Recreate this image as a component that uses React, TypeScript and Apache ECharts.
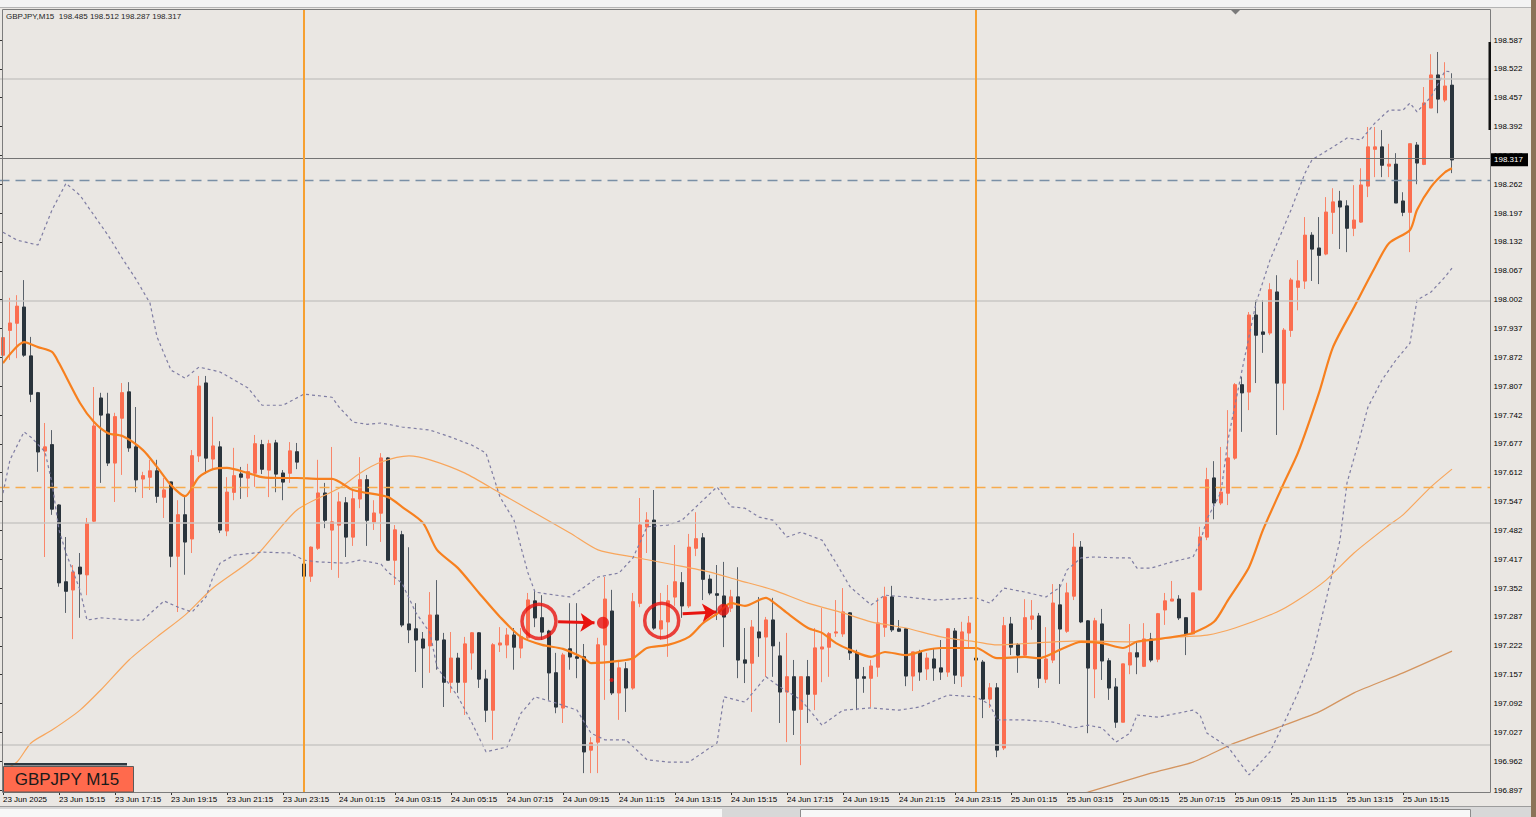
import React, { useEffect, useRef } from "react";
import * as echarts from "echarts";

// ---- candle data (GBPJPY M15, 23 Jun 13:15 -> 25 Jun 17:00) ----
const openP = [
197.877,197.933,197.949,197.985,197.875,197.792,197.661,197.675,197.539,197.366,
197.348,197.399,197.382,197.503,197.780,197.744,197.634,197.735,197.794,197.670,
197.598,197.602,197.616,197.557,197.591,197.424,197.517,197.463,197.650,197.814,
197.643,197.670,197.481,197.568,197.609,197.600,197.611,197.675,197.618,197.679,
197.611,197.611,197.659,197.406,197.379,197.442,197.566,197.483,197.494,197.544,
197.467,197.553,197.596,197.501,197.521,197.645,197.415,197.472,197.271,197.260,
197.237,197.222,197.291,197.235,197.140,197.194,197.140,197.206,197.251,197.147,
197.077,197.224,197.224,197.246,197.217,197.240,197.323,197.285,197.255,197.161,
197.082,197.215,197.197,197.197,196.987,197.005,197.224,197.300,197.116,197.170,
197.127,197.318,197.490,197.505,197.260,197.276,197.332,197.364,197.312,197.442,
197.465,197.372,197.339,197.334,197.307,197.332,197.190,197.183,197.253,197.242,
197.280,197.199,197.118,197.152,197.079,197.152,197.113,197.215,197.219,197.251,
197.249,197.296,197.206,197.152,197.149,197.174,197.264,197.332,197.260,197.260,
197.154,197.208,197.170,197.192,197.172,197.163,197.255,197.154,197.251,197.194,
197.185,197.102,197.127,196.992,197.271,197.224,197.201,197.282,197.289,197.147,
197.190,197.314,197.255,197.334,197.444,197.278,197.170,197.271,197.188,197.129,
197.050,197.179,197.206,197.176,197.237,197.192,197.303,197.323,197.327,197.285,
197.249,197.348,197.467,197.600,197.544,197.566,197.645,197.810,197.794,197.967,
197.929,197.927,198.019,197.814,197.933,198.030,198.044,198.147,198.118,198.105,
198.199,198.224,198.213,198.163,198.177,198.258,198.341,198.346,198.303,198.307,
198.224,198.199,198.350,198.307,198.434,198.508,198.452,198.485
];
const closeP = [
197.916,197.949,197.987,197.877,197.789,197.659,197.670,197.530,197.364,197.345,
197.388,197.384,197.498,197.717,197.742,197.634,197.738,197.792,197.668,197.596,
197.605,197.616,197.559,197.573,197.424,197.517,197.456,197.650,197.807,197.645,
197.672,197.483,197.568,197.605,197.602,197.614,197.677,197.620,197.677,197.609,
197.591,197.661,197.636,197.379,197.444,197.566,197.505,197.501,197.546,197.467,
197.553,197.596,197.505,197.521,197.645,197.415,197.483,197.269,197.258,197.235,
197.217,197.291,197.235,197.140,197.194,197.140,197.226,197.251,197.147,197.077,
197.224,197.228,197.246,197.219,197.242,197.325,197.285,197.253,197.161,197.084,
197.201,197.197,197.194,196.983,197.003,197.224,197.327,197.116,197.172,197.127,
197.321,197.494,197.505,197.262,197.278,197.323,197.366,197.312,197.444,197.463,
197.372,197.341,197.336,197.287,197.332,197.190,197.183,197.264,197.240,197.280,
197.222,197.118,197.152,197.077,197.152,197.113,197.217,197.219,197.249,197.253,
197.298,197.206,197.149,197.149,197.176,197.273,197.332,197.258,197.255,197.154,
197.208,197.163,197.194,197.172,197.163,197.260,197.156,197.253,197.273,197.190,
197.102,197.127,196.987,197.267,197.219,197.201,197.285,197.289,197.149,197.192,
197.318,197.260,197.341,197.444,197.276,197.172,197.278,197.188,197.127,197.050,
197.181,197.206,197.197,197.237,197.190,197.294,197.323,197.327,197.285,197.249,
197.341,197.467,197.596,197.544,197.568,197.645,197.810,197.792,197.967,197.922,
197.924,198.024,197.814,197.933,198.046,198.044,198.147,198.116,198.102,198.199,
198.222,198.211,198.163,198.181,198.260,198.346,198.346,198.305,198.307,198.220,
198.199,198.353,198.310,198.445,198.508,198.454,198.483,198.317
];
const lowP = [
197.866,197.866,197.870,197.873,197.771,197.614,197.422,197.517,197.355,197.296,
197.237,197.285,197.336,197.501,197.589,197.627,197.546,197.607,197.659,197.568,
197.555,197.573,197.544,197.510,197.399,197.298,197.382,197.431,197.636,197.609,
197.618,197.476,197.469,197.550,197.553,197.557,197.580,197.609,197.557,197.568,
197.550,197.589,197.620,197.201,197.366,197.438,197.487,197.393,197.375,197.422,
197.447,197.532,197.447,197.483,197.456,197.415,197.359,197.264,197.228,197.163,
197.127,197.161,197.168,197.084,197.116,197.116,197.066,197.168,197.127,197.050,
197.010,197.208,197.194,197.168,197.194,197.235,197.264,197.235,197.100,197.070,
197.048,197.168,197.149,196.935,196.935,196.935,197.100,197.111,197.055,197.073,
197.123,197.309,197.431,197.258,197.235,197.197,197.312,197.285,197.307,197.424,
197.325,197.336,197.280,197.219,197.298,197.149,197.138,197.073,197.197,197.152,
197.152,197.048,197.005,197.021,196.953,197.048,197.077,197.140,197.152,197.242,
197.242,197.190,197.077,197.116,197.084,197.152,197.242,197.253,197.253,197.131,
197.120,197.143,197.145,197.143,197.145,197.152,197.136,197.129,197.219,197.174,
197.059,197.082,196.971,196.987,197.201,197.161,197.197,197.258,197.127,197.138,
197.183,197.136,197.251,197.325,197.273,197.025,197.104,197.145,197.100,197.037,
197.050,197.158,197.158,197.174,197.185,197.185,197.269,197.323,197.280,197.201,
197.249,197.348,197.460,197.507,197.539,197.539,197.641,197.704,197.753,197.814,
197.882,197.922,197.697,197.753,197.918,197.978,198.026,198.044,198.037,198.102,
198.150,198.116,198.109,198.145,198.175,198.233,198.278,198.278,198.278,198.220,
198.190,198.109,198.262,198.305,198.434,198.422,198.447,198.287
];
const highP = [
197.990,198.006,198.012,198.046,197.918,197.794,197.724,197.708,197.541,197.467,
197.404,197.431,197.510,197.805,197.792,197.792,197.747,197.814,197.816,197.760,
197.614,197.641,197.641,197.600,197.591,197.550,197.557,197.663,197.830,197.830,
197.738,197.683,197.602,197.668,197.625,197.632,197.697,197.686,197.686,197.686,
197.618,197.681,197.679,197.415,197.446,197.641,197.589,197.670,197.568,197.557,
197.573,197.647,197.607,197.550,197.656,197.647,197.494,197.481,197.444,197.318,
197.253,197.343,197.370,197.251,197.253,197.206,197.242,197.253,197.253,197.168,
197.228,197.264,197.262,197.262,197.262,197.341,197.348,197.336,197.258,197.206,
197.206,197.318,197.318,197.226,197.016,197.240,197.377,197.348,197.190,197.185,
197.341,197.555,197.523,197.573,197.341,197.359,197.449,197.388,197.474,197.523,
197.476,197.382,197.404,197.411,197.348,197.399,197.262,197.280,197.332,197.287,
197.330,197.231,197.251,197.190,197.152,197.190,197.262,197.307,197.253,197.325,
197.352,197.298,197.213,197.174,197.190,197.330,197.355,197.357,197.280,197.262,
197.208,197.213,197.206,197.217,197.235,197.262,197.262,197.276,197.289,197.219,
197.190,197.138,197.138,197.287,197.287,197.228,197.327,197.325,197.296,197.264,
197.361,197.361,197.364,197.476,197.458,197.280,197.285,197.305,197.194,197.149,
197.181,197.271,197.231,197.273,197.251,197.296,197.341,197.368,197.336,197.285,
197.341,197.490,197.623,197.638,197.670,197.753,197.814,197.828,197.974,198.001,
198.001,198.039,198.057,197.938,198.051,198.091,198.188,198.154,198.188,198.233,
198.253,198.247,198.226,198.260,198.298,198.391,198.391,198.384,198.353,198.332,
198.244,198.353,198.357,198.481,198.555,198.560,198.537,198.512
];

const timeTicks = [
"23 Jun 2025","23 Jun 15:15","23 Jun 17:15","23 Jun 19:15","23 Jun 21:15","23 Jun 23:15",
"24 Jun 01:15","24 Jun 03:15","24 Jun 05:15","24 Jun 07:15","24 Jun 09:15","24 Jun 11:15",
"24 Jun 13:15","24 Jun 15:15","24 Jun 17:15","24 Jun 19:15","24 Jun 21:15","24 Jun 23:15",
"25 Jun 01:15","25 Jun 03:15","25 Jun 05:15","25 Jun 07:15","25 Jun 09:15","25 Jun 11:15",
"25 Jun 13:15","25 Jun 15:15"
];
const priceTicks = [
"196.897","196.962","197.027","197.092","197.157","197.222","197.287","197.352","197.417",
"197.482","197.547","197.612","197.677","197.742","197.807","197.872","197.937","198.002",
"198.067","198.132","198.197","198.262","198.327","198.392","198.457","198.522","198.587"
];

// ---- indicators, read at sample bars: [bar index, price] ----
const ma20 = [
[0,197.859],[3,197.906],[5,197.895],[7,197.884],[8,197.859],[11,197.769],[13,197.726],[15,197.701],
[17,197.695],[20,197.663],[22,197.625],[24,197.584],[26,197.559],[28,197.602],[30,197.620],[32,197.623],
[35,197.611],[37,197.602],[40,197.600],[42,197.600],[45,197.598],[47,197.598],[50,197.573],[55,197.557],
[57,197.535],[60,197.499],[62,197.438],[65,197.397],[68,197.341],[71,197.287],[74,197.242],[77,197.224],
[80,197.215],[83,197.194],[84,197.183],[88,197.188],[90,197.194],[92,197.217],[95,197.224],[98,197.242],
[100,197.273],[102,197.294],[104,197.318],[106,197.312],[109,197.330],[110,197.321],[112,197.296],
[115,197.262],[117,197.251],[119,197.228],[121,197.213],[124,197.197],[126,197.208],[129,197.201],
[132,197.213],[134,197.217],[139,197.217],[142,197.194],[146,197.197],[148,197.194],[151,197.213],
[154,197.231],[157,197.228],[160,197.217],[162,197.231],[165,197.237],[168,197.244],[170,197.251],
[173,197.276],[175,197.325],[178,197.399],[180,197.483],[183,197.589],[185,197.657],[188,197.792],
[190,197.895],[193,197.985],[196,198.075],[198,198.129],[201,198.159],[202,198.204],[204,198.256],
[206,198.289],[207,198.298]
];
const ma50 = [
[0,196.942],[2,196.960],[4,197.003],[7,197.032],[11,197.077],[14,197.123],[18,197.190],[22,197.242],
[26,197.291],[30,197.352],[36,197.422],[42,197.528],[48,197.577],[51,197.611],[54,197.636],[58,197.650],
[61,197.641],[66,197.611],[71,197.566],[76,197.521],[81,197.476],[85,197.438],[90,197.422],[96,197.404],
[101,197.388],[105,197.370],[110,197.348],[115,197.318],[120,197.296],[124,197.276],[129,197.262],
[134,197.242],[139,197.231],[142,197.224],[147,197.228],[154,197.233],[161,197.231],[168,197.242],
[172,197.246],[176,197.262],[182,197.298],[185,197.325],[189,197.370],[193,197.431],[198,197.494],
[200,197.517],[204,197.580],[207,197.620]
];
const ma200 = [
[150,196.870],[155,196.892],[164,196.935],[170,196.960],[176,197.003],[182,197.037],[188,197.073],
[193,197.116],[200,197.161],[207,197.210]
];
const bbUpper = [
[0,198.154],[2,198.136],[5,198.125],[7,198.204],[9,198.264],[11,198.237],[13,198.192],[15,198.147],
[17,198.096],[19,198.048],[21,197.994],[22,197.918],[24,197.843],[26,197.825],[28,197.850],[31,197.839],
[33,197.821],[35,197.803],[37,197.764],[40,197.764],[43,197.789],[47,197.782],[48,197.760],[50,197.726],
[52,197.721],[54,197.724],[57,197.715],[61,197.708],[64,197.692],[67,197.674],[69,197.656],[71,197.557],
[73,197.505],[74,197.444],[75,197.386],[76,197.343],[79,197.336],[81,197.332],[83,197.354],[85,197.377],
[88,197.386],[90,197.420],[92,197.490],[95,197.494],[97,197.505],[100,197.550],[102,197.580],
[104,197.535],[106,197.532],[108,197.512],[110,197.505],[112,197.467],[114,197.478],[117,197.460],
[119,197.409],[121,197.355],[124,197.314],[126,197.336],[129,197.332],[133,197.325],[139,197.330],
[141,197.318],[143,197.352],[146,197.343],[149,197.332],[151,197.354],[152,197.393],[154,197.420],
[156,197.422],[159,197.420],[161,197.420],[162,197.397],[164,197.397],[167,197.411],[170,197.422],
[171,197.454],[172,197.508],[174,197.568],[175,197.686],[177,197.843],[179,197.994],[181,198.091],
[184,198.204],[186,198.287],[187,198.317],[190,198.346],[192,198.366],[194,198.362],[196,198.400],
[198,198.429],[200,198.429],[201,198.445],[202,198.425],[204,198.459],[206,198.517],[207,198.515]
];
const bbLower = [
[0,197.566],[1,197.641],[3,197.704],[4,197.692],[6,197.659],[7,197.589],[8,197.483],[9,197.431],
[11,197.348],[12,197.280],[14,197.285],[18,197.280],[20,197.280],[23,197.323],[25,197.309],[27,197.298],
[29,197.332],[30,197.377],[31,197.408],[33,197.426],[37,197.433],[41,197.431],[43,197.415],[45,197.411],
[49,197.408],[51,197.415],[54,197.406],[55,197.388],[57,197.363],[59,197.296],[61,197.251],[62,197.174],
[65,197.107],[67,197.048],[69,196.983],[72,196.994],[74,197.070],[76,197.107],[79,197.093],[82,197.077],
[84,197.025],[86,197.010],[89,197.010],[92,196.965],[95,196.960],[98,196.960],[102,197.003],
[103,197.107],[106,197.095],[109,197.152],[111,197.129],[114,197.100],[117,197.043],[120,197.077],
[124,197.082],[128,197.077],[131,197.084],[135,197.111],[139,197.107],[141,197.089],[142,197.055],
[146,197.055],[150,197.050],[153,197.037],[155,197.043],[157,197.037],[159,197.005],[161,197.025],
[162,197.066],[165,197.061],[170,197.077],[171,197.066],[172,197.025],[175,196.994],[178,196.931],
[181,196.983],[183,197.048],[185,197.116],[187,197.197],[189,197.325],[191,197.460],[192,197.589],
[194,197.701],[195,197.760],[197,197.821],[199,197.866],[201,197.904],[202,198.001],[204,198.019],
[206,198.053],[207,198.073]
];

// ---- chart objects ----
const silverLevels = [198.5, 198.0, 197.5, 197.0];
const bidPrice = 198.317;
const blueDashLevel = 198.267;
const orangeDashLevel = 197.58;
const daySeparators = [43, 139];

// ---- hand-drawn annotations: [bar index, price] ----
const circleMarks = [[76.57, 197.277], [94.1, 197.279]];
const dotMarks = [[85.71, 197.274], [102.9, 197.303]];
const tinyDots = [[86.95, 197.145]];
const arrowMarks = [
  [[79.3, 197.276], [84.5, 197.274]],
  [[97.1, 197.294], [101.9, 197.298]],
];

const N_SLOTS = 213;
const Y_MIN = 196.8925;
const Y_MAX = 198.6546;

const BULL = "#FB6E50";
const BULL_WICK = "#F9866A";
const BEAR = "#2A343C";
const BEAR_WICK = "#5A626B";
const FONT = '"Liberation Sans", Arial, sans-serif';

export default function App() {
  const ref = useRef<HTMLDivElement>(null);

  useEffect(() => {
    document.body.style.margin = "0";
    const chart = echarts.init(ref.current as HTMLDivElement, null, { renderer: "svg" });
    const cats = Array.from({ length: N_SLOTS }, (_, i) => String(i));
    const candles = openP.map((o, i) => [o, closeP[i], lowP[i], highP[i]]);
    const bodies = openP.map((o, i) => [o, closeP[i], Math.min(o, closeP[i]), Math.max(o, closeP[i])]);
    const showIdx = (i: number) => i % 8 === 0 && i <= 200;

    const lineSeries = (data: number[][], color: string, width: number, dash: any, smooth: number) => ({
      type: "line",
      xAxisIndex: 1,
      yAxisIndex: 0,
      data,
      symbol: "none",
      showSymbol: false,
      smooth,
      silent: true,
      z: 4,
      lineStyle: { color, width, type: dash },
    });

    const option: any = {
      animation: false,
      backgroundColor: "#EAE7E3",
      textStyle: { fontFamily: FONT },
      grid: [
        { left: -0.5, right: 45.5, top: 10, bottom: 25, outerBoundsMode: "none", containLabel: false },
        { left: -0.5, right: 45.5, top: 40, height: 750, outerBoundsMode: "none", containLabel: false },
      ],
      xAxis: [
        {
          type: "category",
          gridIndex: 0,
          data: cats,
          boundaryGap: true,
          axisLine: { show: false },
          axisTick: { show: true, alignWithLabel: true, interval: (i: number) => showIdx(i), length: 3, lineStyle: { color: "#333" } },
          axisLabel: {
            show: true,
            interval: (i: number) => showIdx(i),
            formatter: (_v: string, i: number) => timeTicks[i / 8] || "",
            align: "left",
            margin: 3,
            fontSize: 8,
            color: "#000",
            fontFamily: FONT,
          },
          splitLine: { show: false },
        },
        { type: "value", gridIndex: 0, min: -0.5, max: N_SLOTS - 0.5, show: false },
        { type: "value", gridIndex: 1, min: 0, max: 1, show: false },
      ],
      yAxis: [
        { type: "value", gridIndex: 0, min: Y_MIN, max: Y_MAX, show: false, splitLine: { show: false } },
        {
          type: "value",
          gridIndex: 1,
          min: 0,
          max: priceTicks.length - 1,
          interval: 1,
          position: "right",
          axisLine: { show: false },
          axisTick: { show: true, length: 3, lineStyle: { color: "#333" } },
          axisLabel: {
            formatter: (v: number) => priceTicks[Math.round(v)] || "",
            fontSize: 8,
            color: "#000",
            margin: 3,
            fontFamily: FONT,
          },
          splitLine: { show: false },
        },
      ],
      series: [
        {
          type: "line",
          xAxisIndex: 0,
          yAxisIndex: 0,
          data: [],
          z: 1,
          silent: true,
          markLine: {
            silent: true,
            symbol: "none",
            label: { show: false },
            animation: false,
            data: [
              ...silverLevels.map((v) => ({ yAxis: v, lineStyle: { color: "#C9C7C4", width: 1.5, type: "solid" } })),
              { yAxis: bidPrice, lineStyle: { color: "#747474", width: 1, type: "solid" } },
              { yAxis: blueDashLevel, lineStyle: { color: "#7A90A6", width: 1.3, type: [10, 6] } },
              { yAxis: orangeDashLevel, lineStyle: { color: "#F7AB4E", width: 1.3, type: [10, 6] } },
              ...daySeparators.map((d) => ({ xAxis: String(d), lineStyle: { color: "#F6A032", width: 2, type: "solid" } })),
            ],
          },
        },
        {
          type: "candlestick",
          xAxisIndex: 0,
          yAxisIndex: 0,
          data: candles,
          barWidth: 3.4,
          z: 3,
          silent: true,
          itemStyle: {
            color: "rgba(0,0,0,0)",
            color0: "rgba(0,0,0,0)",
            borderColor: BULL_WICK,
            borderColor0: BEAR_WICK,
            borderWidth: 1,
          },
        },
        {
          type: "candlestick",
          xAxisIndex: 0,
          yAxisIndex: 0,
          data: bodies,
          barWidth: 3.4,
          z: 3,
          silent: true,
          itemStyle: { color: BULL, color0: BEAR, borderColor: BULL, borderColor0: BEAR, borderWidth: 1 },
        },
        lineSeries(ma200, "#D49560", 1.3, "solid", 0.2),
        lineSeries(ma50, "#F8A65C", 1.2, "solid", 0.25),
        lineSeries(bbUpper, "#7F7DA3", 1.2, [3, 3], 0),
        lineSeries(bbLower, "#7F7DA3", 1.2, [3, 3], 0),
        lineSeries(ma20, "#F7801F", 2.2, "solid", 0.25),
        {
          type: "scatter",
          xAxisIndex: 1,
          yAxisIndex: 0,
          data: circleMarks,
          symbol: "circle",
          symbolSize: 34,
          z: 10,
          silent: true,
          itemStyle: { color: "rgba(0,0,0,0)", borderColor: "#E8140F", borderWidth: 3.5 },
        },
        {
          type: "scatter",
          xAxisIndex: 1,
          yAxisIndex: 0,
          data: dotMarks,
          symbolSize: 12,
          z: 10,
          silent: true,
          itemStyle: { color: "#E8140F" },
        },
        {
          type: "scatter",
          xAxisIndex: 1,
          yAxisIndex: 0,
          data: tinyDots,
          symbolSize: 4,
          z: 10,
          silent: true,
          itemStyle: { color: "#E8140F" },
        },
        {
          type: "lines",
          coordinateSystem: "cartesian2d",
          xAxisIndex: 1,
          yAxisIndex: 0,
          z: 10,
          silent: true,
          symbol: ["none", "arrow"],
          symbolSize: 14,
          lineStyle: { color: "#E8140F", width: 3, opacity: 1 },
          data: arrowMarks.map((c) => ({ coords: c })),
        },
        { type: "scatter", xAxisIndex: 2, yAxisIndex: 1, data: [] },
      ],
    };

    chart.setOption(option);

    const py = chart.convertToPixel({ yAxisIndex: 0 } as any, bidPrice) as unknown as number;

    chart.setOption({
      graphic: [
        { type: "rect", z: 100, shape: { x: 0, y: 0, width: 1536, height: 8 }, style: { fill: "#F3F3F3" } },
        { type: "line", z: 100, shape: { x1: 0, y1: 7.5, x2: 1536, y2: 7.5 }, style: { stroke: "#B4B4B4", lineWidth: 1 } },
        { type: "rect", z: 100, shape: { x: 2.5, y: 9.5, width: 1488, height: 783 }, style: { fill: "none", stroke: "#7C7C7C", lineWidth: 1 } },
        { type: "rect", z: 101, shape: { x: 1488.5, y: 42, width: 2.5, height: 88 }, style: { fill: "#111111" } },
        { type: "polygon", z: 101, shape: { points: [[1231, 10], [1240, 10], [1235.5, 14.5]] }, style: { fill: "#7A7A7A" } },
        {
          type: "text", z: 101, x: 6, y: 16.5,
          style: { text: "GBPJPY,M15  198.485 198.512 198.287 198.317", font: `8px ${FONT}`, fill: "#1E1E1E", align: "left", verticalAlign: "middle" },
        },
        { type: "rect", z: 101, shape: { x: 4, y: 763, width: 123, height: 2.5 }, style: { fill: "#2E3840" } },
        { type: "rect", z: 101, shape: { x: 3.5, y: 766.5, width: 130, height: 25.5 }, style: { fill: "#FF6A4D", stroke: "#5A5A5A", lineWidth: 1 } },
        {
          type: "text", z: 102, x: 67, y: 779.5,
          style: { text: "GBPJPY M15", font: `17px ${FONT}`, fill: "#1A1A1A", align: "center", verticalAlign: "middle" },
        },
        { type: "rect", z: 101, shape: { x: 1491, y: py - 6.5, width: 37, height: 13 }, style: { fill: "#000000" } },
        {
          type: "text", z: 102, x: 1494, y: py,
          style: { text: "198.317", font: `8px ${FONT}`, fill: "#FFFFFF", align: "left", verticalAlign: "middle" },
        },
        { type: "rect", z: 100, shape: { x: 0, y: 806, width: 1536, height: 11 }, style: { fill: "#D8D8D8" } },
        { type: "line", z: 100, shape: { x1: 0, y1: 806.5, x2: 1536, y2: 806.5 }, style: { stroke: "#9C9C9C", lineWidth: 1 } },
        { type: "rect", z: 100, shape: { x: 0, y: 809, width: 722, height: 8 }, style: { fill: "#F7F7F7" } },
        { type: "rect", z: 100, shape: { x: 800.5, y: 809.5, width: 670, height: 8 }, style: { fill: "#F7F7F7", stroke: "#8C8C8C", lineWidth: 1 } },
        { type: "rect", z: 100, shape: { x: 1531, y: 0, width: 5, height: 817 }, style: { fill: "#8B7358" } },
      ],
    });

    return () => chart.dispose();
  }, []);

  return <div ref={ref} style={{ position: "fixed", left: 0, top: 0, width: 1536, height: 817 }} />;
}
